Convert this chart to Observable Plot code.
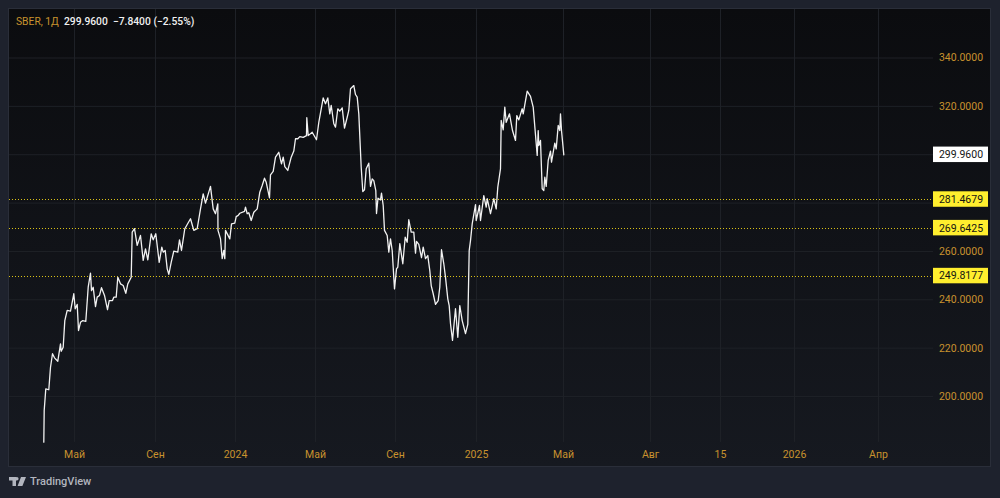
<!DOCTYPE html>
<html lang="ru">
<head>
<meta charset="utf-8">
<script src="https://cdn.jsdelivr.net/npm/d3@7"></script>
<script src="https://cdn.jsdelivr.net/npm/@observablehq/plot@0.6"></script>
<style>
html,body{margin:0;padding:0;width:1000px;height:498px;overflow:hidden;background:#1e222d;}
body{position:relative;font-family:Roboto,sans-serif;}
#panel{position:absolute;left:9px;top:9px;width:981px;height:457px;box-sizing:border-box;background:linear-gradient(180deg,#0b0c0f 0%,#161920 100%);box-shadow:0 0 0 1px #2a2e39;}
#chart{position:absolute;left:0;top:0;}
#legend{position:absolute;left:16px;top:15px;font-size:10.3px;line-height:13px;white-space:pre;color:#f0f0f0;font-weight:500;}
#legend span{color:#c8922e;font-weight:400;}
#brand{position:absolute;left:9px;top:475px;display:flex;align-items:center;gap:4px;color:#b2b5be;font-size:11px;font-weight:500;}
</style>
</head>
<body>
<div id="panel"></div>
<div id="chart"></div>
<div id="legend"><span>SBER, 1Д</span>  299.9600  −7.8400 (−2.55%)</div>
<div id="brand"><svg width="17" height="9" viewBox="0 0 17 9"><path fill="#b2b5be" d="M0 0h7v9H3.5V3.5H0zM12 0h5l-3.6 9H8.6zM7.8 0a1.8 1.8 0 1 1 0 3.6a1.8 1.8 0 0 1 0-3.6z"/></svg><span>TradingView</span></div>
<script>
// [bar number, close price]
const trace2023 = [[0.3,181.1],[0.7,194.2],[2.3,203.2],[5.3,202.8],[7,212.1],[9,217.7],[11,216],[14.3,214.6],[17,221.8],[17.7,218.7],[19.7,220.4],[21.3,231.4],[23.7,235.6],[27,235.3],[30.3,242.5],[31.7,236.3],[33.7,238.1],[35,227.3],[37,230.7],[39.3,231.4],[42.3,231.1],[44.7,245.2],[47,251],[48,243.8],[49.7,245.2],[52,237.2],[53.7,241.1],[56,241.8],[58,245],[61,241.8],[64,235.9],[65.7,239.7],[69,239.7],[70.3,241.1],[72.7,241.1],[74.3,249.3],[77,246.6],[79.7,245.9],[82.3,242.7],[84.3,246.6],[87.7,249.3],[88.7,268],[91,269.4],[93.7,262.5],[97,266.6],[99.7,256.3],[102,261.1],[104.3,256.5],[107.7,267.3],[109.7,264.8],[112.3,267.3],[115.7,255.5],[118.3,261.8],[119.7,259.7],[121.7,260.4],[123.7,252.8],[125.3,250.5],[127.7,255.5],[130.3,260.1],[134.3,259.7],[136,264.8],[138,260.4],[141.3,269.4],[147,273.5],[150.3,268.7],[153.7,269.4],[157,277.6],[159.7,283.8],[162,280],[167,286.9],[169.7,277.6],[172,275.6],[174.3,279.7],[174.5,268.7],[177,265.2],[178.7,257],[180.3,260.4],[181.3,257],[182,268.7],[186.3,265.2],[188,271.4],[191.3,271.7]];
const trace2024 = [[192.7,274.4],[194.7,274.9],[196.3,275.8],[201,276.6],[202,278.3],[203.7,275.6],[205.3,276],[207.7,272.8],[210.3,276.2],[213.7,277.6],[216.3,284.5],[218.7,287.3],[221,290.3],[222.7,288.6],[226,282.2],[227,291.7],[229.7,293.1],[232,299],[235.3,301],[238,296.2],[239.7,299],[241.3,295.1],[244.3,293.5],[247.7,299],[250.3,301.5],[252,306.6],[254.3,306.6],[256.3,307.5],[259.7,307.2],[263,307.9],[263.3,315.3],[264.7,307.9],[268.7,309.3],[273,306.2],[275.3,313.4],[279.7,323.5],[282,321.1],[284.3,323.5],[286.3,316.9],[287.7,320.4],[290.3,312.8],[292,311.4],[294.3,319],[296.3,318],[298.7,319.4],[301,311],[303.7,315.5],[305.3,318.3],[307,327.3],[310.3,328.6],[312,324.9],[313.7,323.8],[315.3,316.9],[317.7,294.8],[319.3,284.8],[321,285.5],[322.7,294.2],[325.3,296.5],[327,286.9],[328.7,290],[330.3,289.3],[332.3,285.2],[333,275.7],[334.5,282],[337,281.3],[338,284.1],[339.7,279],[341,268.7],[343.7,266.6],[345.3,259.7],[347,265.2],[348.7,260.4],[351,244.5],[353,252.8],[354.3,253.5],[356.3,263.2],[359.3,254.9],[361.7,265.9],[363.7,263.8],[365.3,273.1],[367.7,268],[370.3,268],[372,259.3],[373,264.2],[375.3,262.9],[378,257.4],[379.7,261.8],[382,257],[384.3,258.3],[386.3,252.1],[387.7,245.9],[389.7,242.5],[392,238.1],[394.7,239.7],[396.3,245.2],[398,260.7],[400.3,254.9],[402,249.3],[404.3,240.4],[405.7,237.6],[407,230.1],[409,223.2],[412,236.3],[414.3,224.5],[416.3,237.6],[418.7,231.4],[422,226],[424.3,229.8],[425.7,260.4],[427,264.5],[428.7,271.4]];
const trace2025 = [[432,279.4],[432.7,272.8],[436,279],[437,272.8],[440.3,283.1],[442.7,278.3],[443.7,281.8],[447,275.6],[450.3,281.8],[452.7,277.6],[454.3,286.6],[457,294.2],[457.7,314.2],[459.7,310.3],[461.3,319.7],[462.7,313.4],[466,316.9],[469,310],[472,305.9],[473.3,316.2],[475.3,314.4],[478.7,319],[479.7,316.9],[483.7,326.3],[487,324.1],[489.7,319.7],[493.7,299.7],[494.7,310],[495.3,303.8],[497,305.9],[498.7,285.9],[500.3,285.2],[501.3,290.7],[502.7,286.9],[504.7,297.6],[507,301.5],[508,296.9],[511.3,304.8],[512.7,302.4],[514.7,312.1],[516.3,310],[517,316.9],[518,310],[520.3,299.96]];

const timeTicks = [31,112,192,272,352,433,520,607,677,751,835];
const timeLabels = ["Май","Сен","2024","Май","Сен","2025","Май","Авг","15","2026","Апр"];
const yearLabels = ["2024","2025","2026"];
const gridPrices = [200,220,240,260,280,300,320,340];
const axisPrices = [200,220,240,260,320,340];
const levels = [281.4679,269.6425,249.8177];
const lastPrice = 299.96;

const series = [...trace2023, ...trace2024, ...trace2025].map(([bar, price]) => ({bar, price}));
const gold = "#c8922e";
const fontSize = 10.5;
const fmt = d3.format(".4f");
const tagX1 = 890, tagX2 = 945, tagMid = 917.5;
const tagHalf = 3.2;
const timeRows = timeTicks.map((t, i) => ({t, label: timeLabels[i]}));

const chart = Plot.plot({
  width: 1000,
  height: 498,
  marginLeft: 9,
  marginRight: 67,
  marginTop: 9,
  marginBottom: 32,
  style: {background: "transparent", fontFamily: "Roboto, sans-serif"},
  x: {type: "linear", domain: [-34, 890], axis: null},
  y: {domain: [171.06, 360.06], axis: null},
  marks: [
    Plot.ruleY(gridPrices, {stroke: "#1e2127", strokeWidth: 1}),
    Plot.ruleX(timeTicks, {y1: 181, y2: 360.06, stroke: "#1e2127", strokeWidth: 1}),
    Plot.ruleY(levels, {stroke: "#d9c016", strokeWidth: 1, strokeDasharray: "1 2", shapeRendering: "crispEdges"}),
    Plot.line(series, {x: "bar", y: "price", stroke: "#f2f2f2", strokeWidth: 1.3, strokeLinejoin: "round", curve: "linear"}),
    Plot.text(axisPrices, {x: tagMid, y: d => d, text: d => fmt(d), fill: gold, fontSize}),
    Plot.text(timeRows, {
      x: "t", y: 176, text: "label", fill: gold, fontSize,
      fontWeight: d => yearLabels.includes(d.label) ? 700 : 400
    }),
    Plot.rect(levels, {x1: tagX1, x2: tagX2, y1: d => d - tagHalf, y2: d => d + tagHalf, fill: "#ffee2e"}),
    Plot.text(levels, {x: tagMid, y: d => d, text: d => fmt(d), fill: "#131313", fontSize}),
    Plot.rect([lastPrice], {x1: tagX1, x2: tagX2, y1: d => d - tagHalf, y2: d => d + tagHalf, fill: "#ffffff"}),
    Plot.text([lastPrice], {x: tagMid, y: d => d, text: d => fmt(d), fill: "#131313", fontSize})
  ]
});
document.getElementById("chart").append(chart);
</script>
</body>
</html>
